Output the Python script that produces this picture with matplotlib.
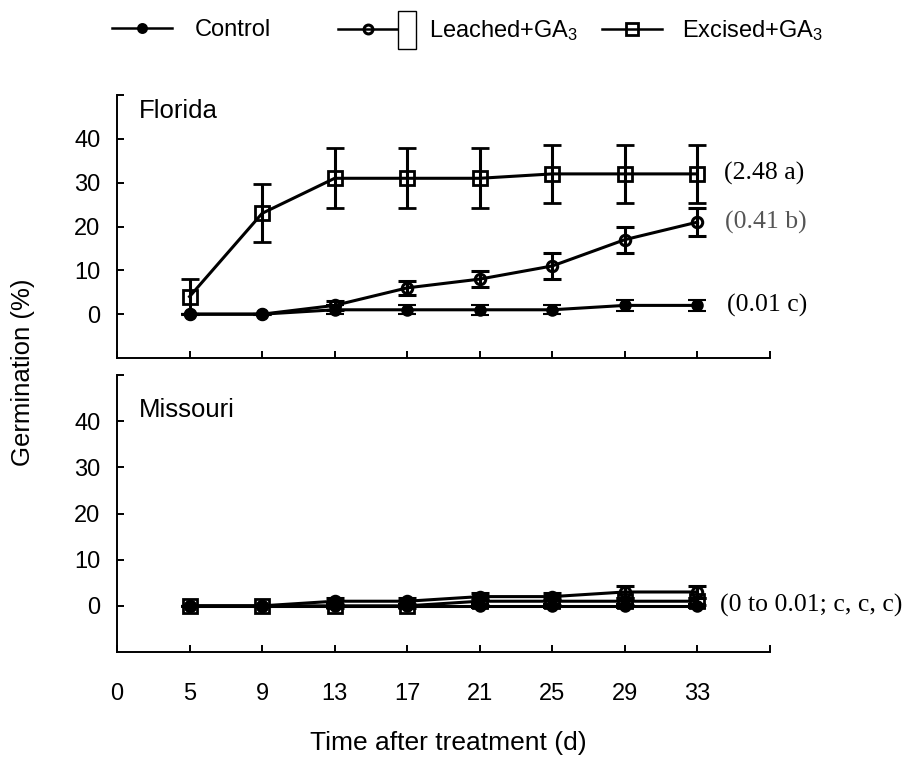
import matplotlib
matplotlib.use("Agg")
import matplotlib.pyplot as plt
from matplotlib.lines import Line2D
from matplotlib.patches import Rectangle
from matplotlib.legend_handler import HandlerLine2D

plt.rcParams['font.family'] = ['Liberation Sans', 'DejaVu Sans']
plt.rcParams['mathtext.fontset'] = 'custom'
plt.rcParams['mathtext.rm'] = 'Liberation Sans'
plt.rcParams['mathtext.it'] = 'Liberation Sans:italic'

# ---------------- data ----------------
days = ['5', '9', '13', '17', '21', '25', '29', '33']
tick_labels = ['0'] + days + ['']

fl_control = [0, 0, 1, 1, 1, 1, 2, 2]
fl_control_err = [0, 0, 1, 1, 1.1, 1, 1.2, 1.2]
fl_leached = [0, 0, 2, 6, 8, 11, 17, 21]
fl_leached_err = [0, 0, 1, 1.6, 1.9, 2.9, 3.0, 3.2]
fl_excised = [4, 23, 31, 31, 31, 32, 32, 32]
fl_excised_err = [4, 6.6, 6.8, 6.8, 6.8, 6.7, 6.7, 6.7]

mo_control = [0, 0, 0, 0, 0, 0, 0, 0]
mo_control_err = [0, 0, 0.5, 0.5, 0.5, 0.5, 0.5, 0.5]
mo_leached = [0, 0, 1, 1, 2, 2, 3, 3]
mo_leached_err = [0, 0, 0.8, 0.8, 0.8, 0.8, 1.2, 1.2]
mo_excised = [0, 0, 0, 0, 1, 1, 1, 1]
mo_excised_err = [0, 0, 0.5, 0.5, 0.8, 0.8, 0.8, 0.8]

fl_notes = ['(2.48 a)', '(0.41 b)', '(0.01 c)']
mo_note = '(0 to 0.01; c, c, c)'

series_names = ['Control', 'Leached+GA$_{\\mathrm{3}}$', 'Excised+GA$_{\\mathrm{3}}$']

# ---------------- styles ----------------
styles = [
    dict(marker='o', ms=7.5, mfc='black', mec='black', mew=1.5),
    dict(marker='o', ms=7.5, mfc='none', mec='black', mew=2.2),
    dict(marker='s', ms=10.5, mfc='none', mec='black', mew=2.0),
]

fig = plt.figure(figsize=(9.03, 7.57), dpi=100)
W, H = 903, 757
ax_fl = fig.add_axes([117 / W, 1 - 358 / H, 653 / W, 263 / H])
ax_mo = fig.add_axes([117 / W, 1 - 652 / H, 653 / W, 277 / H])

x = list(range(1, len(days) + 1))


def draw_panel(ax, ys, errs, name, name_y, show_xlabels):
    for y, e, st in zip(ys, errs, styles):
        ax.errorbar(x, y, yerr=e, color='black', lw=2.2, capsize=6.8,
                    capthick=2.8, elinewidth=2.2, **st)
    ax.set_xlim(0, 9)
    ax.set_ylim(-10, 50)
    ax.set_xticks(range(0, 10))
    ax.set_xticklabels(tick_labels if show_xlabels else [])
    ax.set_yticks([0, 10, 20, 30, 40, 50])
    ax.set_yticklabels(['0', '10', '20', '30', '40', ''])
    for s in ['top', 'right']:
        ax.spines[s].set_visible(False)
    for s in ['left', 'bottom']:
        ax.spines[s].set_linewidth(1.4)
    ax.tick_params(axis='both', direction='in', length=5, width=1.4,
                   labelsize=17, colors='black')
    ax.tick_params(axis='y', pad=12)
    ax.tick_params(axis='x', pad=22)
    ax.text(0.034, name_y, name, transform=ax.transAxes, fontsize=18.5,
            va='center', ha='left')


draw_panel(ax_fl, [fl_control, fl_leached, fl_excised],
           [fl_control_err, fl_leached_err, fl_excised_err], 'Florida', 0.94, False)
draw_panel(ax_mo, [mo_control, mo_leached, mo_excised],
           [mo_control_err, mo_leached_err, mo_excised_err], 'Missouri', 0.874, True)

serif = ['Liberation Serif', 'DejaVu Serif']
ax_fl.annotate(fl_notes[0], xy=(8, fl_excised[-1]), xytext=(19, 0),
               textcoords='offset points', va='center', ha='left',
               fontsize=18.5, family=serif)
ax_fl.annotate(fl_notes[1], xy=(8, fl_leached[-1]), xytext=(20, 0),
               textcoords='offset points', va='center', ha='left',
               fontsize=18.5, family=serif, color='#555555')
ax_fl.annotate(fl_notes[2], xy=(8, fl_control[-1]), xytext=(21, 0),
               textcoords='offset points', va='center', ha='left',
               fontsize=18.5, family=serif)
ax_mo.annotate(mo_note, xy=(8, mo_control[-1]), xytext=(16, 0),
               textcoords='offset points', va='center', ha='left',
               fontsize=18.5, family=serif)

fig.text(23 / W, 1 - 372 / H, 'Germination (%)', rotation=90,
         va='center', ha='center', fontsize=18.5)
fig.text(448 / W, 1 - 743 / H, 'Time after treatment (d)',
         va='center', ha='center', fontsize=19)


# ---------------- legend ----------------
class HandlerWithBox(HandlerLine2D):
    def create_artists(self, legend, orig_handle, xdescent, ydescent,
                       width, height, fontsize, trans):
        arts = super().create_artists(legend, orig_handle, xdescent, ydescent,
                                      width, height, fontsize, trans)
        rect = Rectangle((width - xdescent, height / 2 - ydescent - 14.5),
                         13, 27, transform=trans, facecolor='white',
                         edgecolor='black', lw=1.0)
        return arts + [rect]


leg_x = [112, 338, 602]
leg_pad = [0.95, 1.3, 0.85]
for i, (name, st) in enumerate(zip(series_names, styles)):
    st2 = dict(st)
    st2['ms'] = st['ms'] * 0.85
    h = Line2D([], [], color='black', lw=1.8, **st2)
    kw = {}
    if i == 1:
        kw['handler_map'] = {h: HandlerWithBox()}
    fig.legend([h], [name], loc='center left',
               bbox_to_anchor=(leg_x[i] / W, 1 - 30.5 / H),
               frameon=False, fontsize=17, handlelength=2.55,
               handletextpad=leg_pad[i], borderpad=0, borderaxespad=0,
               numpoints=1, **kw)

fig.savefig('out.png', dpi=100)
